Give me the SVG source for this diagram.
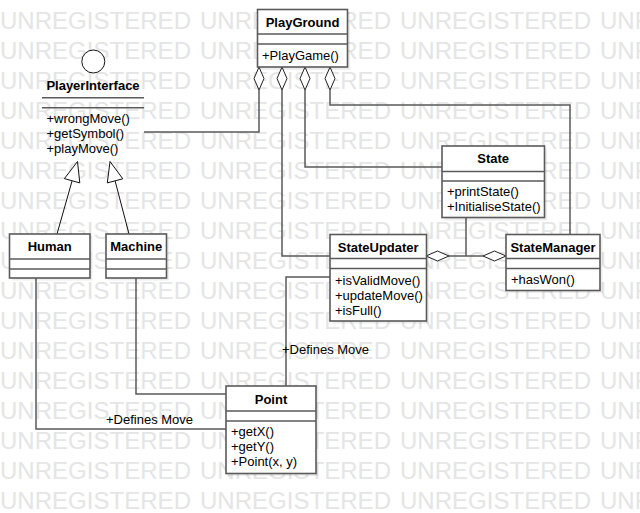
<svg xmlns="http://www.w3.org/2000/svg" width="640" height="513" viewBox="0 0 640 513">
<style>
.wm{font-family:"Liberation Sans",Arial,sans-serif;font-size:23px;fill:#e5e5e5}
.box{fill:#fff;stroke:#5a5a5a;stroke-width:1.6}
.sh{fill:#000;opacity:0.07}
.sep{stroke:#5a5a5a;stroke-width:1.6}
.t{font-family:"Liberation Sans",Arial,sans-serif;font-size:13px;fill:#000}
.b{font-weight:bold;text-anchor:middle}
.c{fill:none;stroke:#5a5a5a;stroke-width:1.5}
.dia{fill:#fff;stroke:#222;stroke-width:1}
.gen{fill:none;stroke:#111;stroke-width:1}
.tri{fill:#fff;stroke:#111;stroke-width:1}
</style>
<rect width="640" height="513" fill="#fff"/>
<g id="watermark">
<text class="wm" x="0" y="29" textLength="191" lengthAdjust="spacingAndGlyphs">UNREGISTERED</text><text class="wm" x="200" y="29" textLength="191" lengthAdjust="spacingAndGlyphs">UNREGISTERED</text><text class="wm" x="400" y="29" textLength="191" lengthAdjust="spacingAndGlyphs">UNREGISTERED</text><text class="wm" x="600" y="29" textLength="191" lengthAdjust="spacingAndGlyphs">UNREGISTERED</text>
<text class="wm" x="0" y="59" textLength="191" lengthAdjust="spacingAndGlyphs">UNREGISTERED</text><text class="wm" x="200" y="59" textLength="191" lengthAdjust="spacingAndGlyphs">UNREGISTERED</text><text class="wm" x="400" y="59" textLength="191" lengthAdjust="spacingAndGlyphs">UNREGISTERED</text><text class="wm" x="600" y="59" textLength="191" lengthAdjust="spacingAndGlyphs">UNREGISTERED</text>
<text class="wm" x="0" y="89" textLength="191" lengthAdjust="spacingAndGlyphs">UNREGISTERED</text><text class="wm" x="200" y="89" textLength="191" lengthAdjust="spacingAndGlyphs">UNREGISTERED</text><text class="wm" x="400" y="89" textLength="191" lengthAdjust="spacingAndGlyphs">UNREGISTERED</text><text class="wm" x="600" y="89" textLength="191" lengthAdjust="spacingAndGlyphs">UNREGISTERED</text>
<text class="wm" x="0" y="119" textLength="191" lengthAdjust="spacingAndGlyphs">UNREGISTERED</text><text class="wm" x="200" y="119" textLength="191" lengthAdjust="spacingAndGlyphs">UNREGISTERED</text><text class="wm" x="400" y="119" textLength="191" lengthAdjust="spacingAndGlyphs">UNREGISTERED</text><text class="wm" x="600" y="119" textLength="191" lengthAdjust="spacingAndGlyphs">UNREGISTERED</text>
<text class="wm" x="0" y="149" textLength="191" lengthAdjust="spacingAndGlyphs">UNREGISTERED</text><text class="wm" x="200" y="149" textLength="191" lengthAdjust="spacingAndGlyphs">UNREGISTERED</text><text class="wm" x="400" y="149" textLength="191" lengthAdjust="spacingAndGlyphs">UNREGISTERED</text><text class="wm" x="600" y="149" textLength="191" lengthAdjust="spacingAndGlyphs">UNREGISTERED</text>
<text class="wm" x="0" y="179" textLength="191" lengthAdjust="spacingAndGlyphs">UNREGISTERED</text><text class="wm" x="200" y="179" textLength="191" lengthAdjust="spacingAndGlyphs">UNREGISTERED</text><text class="wm" x="400" y="179" textLength="191" lengthAdjust="spacingAndGlyphs">UNREGISTERED</text><text class="wm" x="600" y="179" textLength="191" lengthAdjust="spacingAndGlyphs">UNREGISTERED</text>
<text class="wm" x="0" y="209" textLength="191" lengthAdjust="spacingAndGlyphs">UNREGISTERED</text><text class="wm" x="200" y="209" textLength="191" lengthAdjust="spacingAndGlyphs">UNREGISTERED</text><text class="wm" x="400" y="209" textLength="191" lengthAdjust="spacingAndGlyphs">UNREGISTERED</text><text class="wm" x="600" y="209" textLength="191" lengthAdjust="spacingAndGlyphs">UNREGISTERED</text>
<text class="wm" x="0" y="239" textLength="191" lengthAdjust="spacingAndGlyphs">UNREGISTERED</text><text class="wm" x="200" y="239" textLength="191" lengthAdjust="spacingAndGlyphs">UNREGISTERED</text><text class="wm" x="400" y="239" textLength="191" lengthAdjust="spacingAndGlyphs">UNREGISTERED</text><text class="wm" x="600" y="239" textLength="191" lengthAdjust="spacingAndGlyphs">UNREGISTERED</text>
<text class="wm" x="0" y="269" textLength="191" lengthAdjust="spacingAndGlyphs">UNREGISTERED</text><text class="wm" x="200" y="269" textLength="191" lengthAdjust="spacingAndGlyphs">UNREGISTERED</text><text class="wm" x="400" y="269" textLength="191" lengthAdjust="spacingAndGlyphs">UNREGISTERED</text><text class="wm" x="600" y="269" textLength="191" lengthAdjust="spacingAndGlyphs">UNREGISTERED</text>
<text class="wm" x="0" y="299" textLength="191" lengthAdjust="spacingAndGlyphs">UNREGISTERED</text><text class="wm" x="200" y="299" textLength="191" lengthAdjust="spacingAndGlyphs">UNREGISTERED</text><text class="wm" x="400" y="299" textLength="191" lengthAdjust="spacingAndGlyphs">UNREGISTERED</text><text class="wm" x="600" y="299" textLength="191" lengthAdjust="spacingAndGlyphs">UNREGISTERED</text>
<text class="wm" x="0" y="329" textLength="191" lengthAdjust="spacingAndGlyphs">UNREGISTERED</text><text class="wm" x="200" y="329" textLength="191" lengthAdjust="spacingAndGlyphs">UNREGISTERED</text><text class="wm" x="400" y="329" textLength="191" lengthAdjust="spacingAndGlyphs">UNREGISTERED</text><text class="wm" x="600" y="329" textLength="191" lengthAdjust="spacingAndGlyphs">UNREGISTERED</text>
<text class="wm" x="0" y="359" textLength="191" lengthAdjust="spacingAndGlyphs">UNREGISTERED</text><text class="wm" x="200" y="359" textLength="191" lengthAdjust="spacingAndGlyphs">UNREGISTERED</text><text class="wm" x="400" y="359" textLength="191" lengthAdjust="spacingAndGlyphs">UNREGISTERED</text><text class="wm" x="600" y="359" textLength="191" lengthAdjust="spacingAndGlyphs">UNREGISTERED</text>
<text class="wm" x="0" y="389" textLength="191" lengthAdjust="spacingAndGlyphs">UNREGISTERED</text><text class="wm" x="200" y="389" textLength="191" lengthAdjust="spacingAndGlyphs">UNREGISTERED</text><text class="wm" x="400" y="389" textLength="191" lengthAdjust="spacingAndGlyphs">UNREGISTERED</text><text class="wm" x="600" y="389" textLength="191" lengthAdjust="spacingAndGlyphs">UNREGISTERED</text>
<text class="wm" x="0" y="419" textLength="191" lengthAdjust="spacingAndGlyphs">UNREGISTERED</text><text class="wm" x="200" y="419" textLength="191" lengthAdjust="spacingAndGlyphs">UNREGISTERED</text><text class="wm" x="400" y="419" textLength="191" lengthAdjust="spacingAndGlyphs">UNREGISTERED</text><text class="wm" x="600" y="419" textLength="191" lengthAdjust="spacingAndGlyphs">UNREGISTERED</text>
<text class="wm" x="0" y="449" textLength="191" lengthAdjust="spacingAndGlyphs">UNREGISTERED</text><text class="wm" x="200" y="449" textLength="191" lengthAdjust="spacingAndGlyphs">UNREGISTERED</text><text class="wm" x="400" y="449" textLength="191" lengthAdjust="spacingAndGlyphs">UNREGISTERED</text><text class="wm" x="600" y="449" textLength="191" lengthAdjust="spacingAndGlyphs">UNREGISTERED</text>
<text class="wm" x="0" y="479" textLength="191" lengthAdjust="spacingAndGlyphs">UNREGISTERED</text><text class="wm" x="200" y="479" textLength="191" lengthAdjust="spacingAndGlyphs">UNREGISTERED</text><text class="wm" x="400" y="479" textLength="191" lengthAdjust="spacingAndGlyphs">UNREGISTERED</text><text class="wm" x="600" y="479" textLength="191" lengthAdjust="spacingAndGlyphs">UNREGISTERED</text>
<text class="wm" x="0" y="509" textLength="191" lengthAdjust="spacingAndGlyphs">UNREGISTERED</text><text class="wm" x="200" y="509" textLength="191" lengthAdjust="spacingAndGlyphs">UNREGISTERED</text><text class="wm" x="400" y="509" textLength="191" lengthAdjust="spacingAndGlyphs">UNREGISTERED</text><text class="wm" x="600" y="509" textLength="191" lengthAdjust="spacingAndGlyphs">UNREGISTERED</text>
</g>
<g id="connectors">
<polyline class="c" points="259,90 259,132 144,132"/>
<polyline class="c" points="282,90 282,256 330,256"/>
<polyline class="c" points="305,90 305,167 442,167"/>
<polyline class="c" points="330,90 330,105 570,105 570,234"/>
<line class="c" x1="466" y1="217" x2="466" y2="256"/>
<line class="c" x1="449" y1="256" x2="483" y2="256"/>
<polyline class="c" points="330,277 286,277 286,386"/>
<polyline class="c" points="36,278 36,429 226,429"/>
<polyline class="c" points="136,278 136,394 226,394"/>
<polygon class="dia" points="259,67 264,78.5 259,90 254,78.5"/>
<polygon class="dia" points="282,67 287,78.5 282,90 277,78.5"/>
<polygon class="dia" points="305,67 310,78.5 305,90 300,78.5"/>
<polygon class="dia" points="330,67 335,78.5 330,90 325,78.5"/>
<polygon class="dia" points="426,256 437.5,251 449,256 437.5,261"/>
<polygon class="dia" points="506,256 494.5,251 483,256 494.5,261"/>
<line class="gen" x1="57" y1="234" x2="72.1" y2="180.8"/>
<polygon class="tri" points="77.5,161.5 79.8,182.9 64.4,178.6"/>
<line class="gen" x1="129" y1="234" x2="115.1" y2="180.9"/>
<polygon class="tri" points="110,161.5 122.8,178.8 107.3,182.9"/>
<text class="t" x="106" y="423.5">+Defines Move</text>
<text class="t" x="282" y="353.5">+Defines Move</text>
</g>
<g id="PlayGround">
<rect class="sh" x="260" y="12" width="90" height="58"/>
<rect class="box" x="257.5" y="9.5" width="90" height="57.5"/>
<line class="sep" x1="257.5" y1="34" x2="347.5" y2="34"/>
<line class="sep" x1="257.5" y1="44" x2="347.5" y2="44"/>
<text class="t b" x="302.5" y="27">PlayGround</text>
<text class="t" x="262" y="60">+PlayGame()</text>
</g>
<g id="PlayerInterface">
<circle cx="93.3" cy="61.5" r="11.5" fill="#fff" stroke="#111" stroke-width="1"/>
<text class="t b" x="93" y="90">PlayerInterface</text>
<line class="sep" x1="42" y1="97.7" x2="144" y2="97.7"/>
<line class="sep" x1="42" y1="107.7" x2="144" y2="107.7"/>
<text class="t" x="46.5" y="122.5">+wrongMove()</text>
<text class="t" x="46.5" y="137.5">+getSymbol()</text>
<text class="t" x="46.5" y="152.5">+playMove()</text>
</g>
<g id="State">
<rect class="sh" x="444.5" y="148.5" width="102.5" height="72"/>
<rect class="box" x="442" y="146" width="102.5" height="71.5"/>
<line class="sep" x1="442" y1="171.5" x2="544.5" y2="171.5"/>
<line class="sep" x1="442" y1="181" x2="544.5" y2="181"/>
<text class="t b" x="493.2" y="163">State</text>
<text class="t" x="447" y="196">+printState()</text>
<text class="t" x="447" y="211">+InitialiseState()</text>
</g>
<g id="StateUpdater">
<rect class="sh" x="332.5" y="237" width="96.5" height="86.5"/>
<rect class="box" x="330" y="234.5" width="96.5" height="86.5"/>
<line class="sep" x1="330" y1="258.5" x2="426.5" y2="258.5"/>
<line class="sep" x1="330" y1="268.5" x2="426.5" y2="268.5"/>
<text class="t b" x="378.2" y="251.5">StateUpdater</text>
<text class="t" x="335" y="285">+isValidMove()</text>
<text class="t" x="335" y="300">+updateMove()</text>
<text class="t" x="335" y="315">+isFull()</text>
</g>
<g id="StateManager">
<rect class="sh" x="508.5" y="237" width="94" height="56"/>
<rect class="box" x="506" y="234.5" width="94" height="56"/>
<line class="sep" x1="506" y1="258.5" x2="600" y2="258.5"/>
<line class="sep" x1="506" y1="268.5" x2="600" y2="268.5"/>
<text class="t b" x="553" y="251.5">StateManager</text>
<text class="t" x="511" y="284">+hasWon()</text>
</g>
<g id="Human">
<rect class="sh" x="12" y="236.5" width="80.5" height="44"/>
<rect class="box" x="9.5" y="234" width="80.5" height="44"/>
<line class="sep" x1="9.5" y1="259" x2="90" y2="259"/>
<line class="sep" x1="9.5" y1="269" x2="90" y2="269"/>
<text class="t b" x="49.7" y="251">Human</text>
</g>
<g id="Machine">
<rect class="sh" x="108.5" y="236.5" width="60.5" height="44"/>
<rect class="box" x="106" y="234" width="60.5" height="44"/>
<line class="sep" x1="106" y1="259" x2="166.5" y2="259"/>
<line class="sep" x1="106" y1="269" x2="166.5" y2="269"/>
<text class="t b" x="136.2" y="251">Machine</text>
</g>
<g id="Point">
<rect class="sh" x="228.5" y="388.5" width="90" height="87.5"/>
<rect class="box" x="226" y="386" width="90" height="87.5"/>
<line class="sep" x1="226" y1="411" x2="316" y2="411"/>
<line class="sep" x1="226" y1="421" x2="316" y2="421"/>
<text class="t b" x="271" y="403.5">Point</text>
<text class="t" x="231" y="436">+getX()</text>
<text class="t" x="231" y="451">+getY()</text>
<text class="t" x="231" y="466">+Point(x, y)</text>
</g>
</svg>
